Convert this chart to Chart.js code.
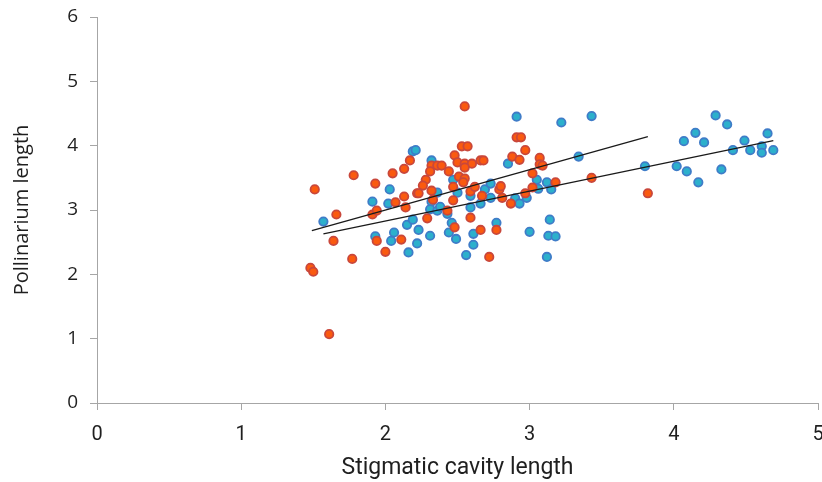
<!DOCTYPE html>
<html>
<head>
<meta charset="utf-8">
<script src="https://cdn.jsdelivr.net/npm/chart.js@4/dist/chart.umd.min.js"></script>
<style>
  html, body { margin: 0; padding: 0; background: #fff; overflow: hidden; }
  #wrap { width: 834px; height: 482px; }
</style>
</head>
<body>
<div id="wrap"><canvas id="chart"></canvas></div>
<script>
// stigmatic cavity length (x) vs pollinarium length (y)
const blueX = [1.57,1.91,2.03,2.02,1.93,2.04,2.06,2.15,2.19,2.22,2.16,2.23,2.19,2.21,2.32,2.32,2.36,2.31,2.36,2.43,
  2.46,2.44,2.31,2.49,2.50,2.47,2.59,2.59,2.66,2.69,2.73,2.73,2.61,2.61,2.56,2.77,2.85,2.91,2.90,2.93,
  2.98,3.05,3.12,3.15,3.06,3.00,3.14,3.13,3.18,3.12,3.22,3.43,3.34,3.80,4.02,4.09,4.17,4.07,4.15,4.21,
  4.29,4.37,4.33,4.41,4.49,4.53,4.61,4.61,4.65,4.69,2.38];
const blueY = [2.82,3.13,3.32,3.10,2.59,2.52,2.65,2.77,2.85,2.48,2.34,2.69,3.91,3.93,3.77,3.13,3.27,3.01,2.99,2.94,
  2.80,2.65,2.60,2.55,3.27,3.47,3.22,3.04,3.10,3.32,3.41,3.19,2.63,2.46,2.30,2.80,3.72,4.45,3.18,3.10,
  3.19,3.47,3.43,3.32,3.33,2.66,2.85,2.60,2.59,2.27,4.36,4.46,3.83,3.68,3.68,3.60,3.43,4.07,4.20,4.05,
  4.47,4.33,3.63,3.93,4.08,3.93,3.99,3.89,4.19,3.93,3.05];

const redX = [1.48,1.50,1.51,1.61,1.64,1.66,1.78,1.77,1.93,1.91,1.94,1.94,2.00,2.11,2.13,2.07,2.14,2.22,2.05,2.13,
  2.17,2.55,2.53,2.57,2.91,2.94,2.97,2.48,2.88,2.32,2.36,2.39,2.50,2.55,2.60,2.66,2.68,2.93,2.31,2.44,
  2.51,2.55,2.55,2.28,2.26,2.23,2.32,2.33,2.47,2.54,2.59,2.62,2.47,2.67,2.79,2.81,2.87,2.97,3.02,2.43,
  2.29,2.59,2.77,2.66,2.48,2.72,3.07,3.07,3.09,3.02,3.18,3.43,3.82,2.80];
const redY = [2.10,2.04,3.32,1.07,2.52,2.93,3.54,2.24,3.41,2.93,2.99,2.52,2.35,2.54,3.21,3.12,3.04,3.26,3.57,3.64,
  3.77,4.61,3.99,3.99,4.13,4.13,3.93,3.85,3.83,3.69,3.69,3.69,3.74,3.72,3.72,3.77,3.77,3.78,3.60,3.60,
  3.52,3.66,3.49,3.47,3.38,3.26,3.30,3.16,3.36,3.43,3.29,3.36,3.15,3.22,3.32,3.19,3.10,3.26,3.35,2.99,
  2.87,2.88,2.69,2.69,2.73,2.27,3.81,3.71,3.69,3.57,3.43,3.50,3.26,3.37];

// linear trend lines, end points
const redTrendX = [1.49, 3.82];
const redTrendY = [2.68, 4.14];
const blueTrendX = [1.57, 4.69];
const blueTrendY = [2.63, 4.08];

const xTicks = [0, 1, 2, 3, 4, 5];
const yTicks = [0, 1, 2, 3, 4, 5, 6];

const pts = (xs, ys) => xs.map((x, i) => ({ x: x, y: ys[i] }));

const axisColor = "#a6a6a6";
const textColor = "#1f1f1f";

new Chart(document.getElementById("chart"), {
  type: "scatter",
  data: {
    datasets: [
      {
        type: "line",
        data: pts(redTrendX, redTrendY),
        borderColor: "#1a1a1a",
        borderWidth: 1.3,
        pointRadius: 0,
        fill: false,
        order: 0
      },
      {
        type: "line",
        data: pts(blueTrendX, blueTrendY),
        borderColor: "#1a1a1a",
        borderWidth: 1.3,
        pointRadius: 0,
        fill: false,
        order: 0
      },
      {
        data: pts(redX, redY),
        backgroundColor: "#fa5a0f",
        borderColor: "#c9473b",
        borderWidth: 1.8,
        pointRadius: 4.2,
        order: 1
      },
      {
        data: pts(blueX, blueY),
        backgroundColor: "#2cb0cc",
        borderColor: "#3f7cc8",
        borderWidth: 1.8,
        pointRadius: 4.2,
        order: 2
      }
    ]
  },
  options: {
    responsive: true,
    maintainAspectRatio: false,
    animation: false,
    layout: { padding: { top: 17, right: 16, bottom: 0, left: 10 } },
    plugins: { legend: { display: false }, tooltip: { enabled: false } },
    scales: {
      x: {
        type: "linear",
        min: 0,
        max: 5,
        afterBuildTicks: (s) => { s.ticks = xTicks.map(v => ({ value: v })); },
        afterFit: (s) => { s.height = 79; s.paddingLeft = 0; s.paddingRight = 0; },
        border: { display: true, color: axisColor, width: 1 },
        grid: { drawOnChartArea: false, drawTicks: true, tickLength: 7, color: axisColor },
        ticks: { color: textColor, padding: 13, font: { family: "Roboto, sans-serif", size: 20 } },
        title: {
          display: true,
          text: "Stigmatic cavity length",
          color: textColor,
          padding: { top: 0, bottom: 0 },
          font: { family: "Roboto, sans-serif", size: 23 }
        }
      },
      y: {
        type: "linear",
        min: 0,
        max: 6,
        afterBuildTicks: (s) => { s.ticks = yTicks.map(v => ({ value: v })); },
        afterFit: (s) => { s.width = 87; s.paddingTop = 0; s.paddingBottom = 0; },
        border: { display: true, color: axisColor, width: 1 },
        grid: { drawOnChartArea: false, drawTicks: true, tickLength: 7, color: axisColor },
        ticks: { color: textColor, padding: 12, font: { family: "Open Sans, sans-serif", size: 19 } },
        title: {
          display: true,
          text: "Pollinarium length",
          color: textColor,
          padding: { top: 0, bottom: 12 },
          font: { family: "Open Sans, sans-serif", size: 20 }
        }
      }
    }
  }
});
</script>
</body>
</html>
